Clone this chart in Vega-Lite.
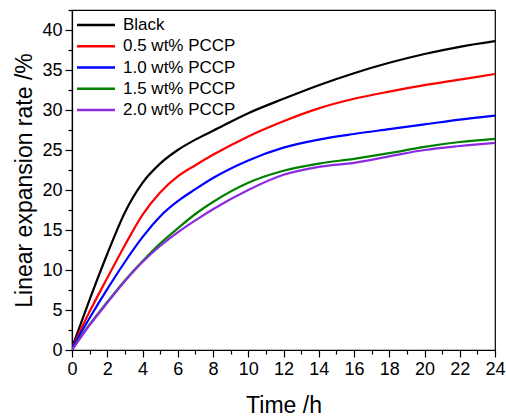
{
  "$schema": "https://vega.github.io/schema/vega-lite/v6.json",
  "width": 423,
  "height": 340,
  "autosize": {"type": "none"},
  "padding": {"left": 72, "top": 10, "right": 11, "bottom": 66},
  "background": "white",
  "config": {
    "view": {"stroke": "#000", "strokeWidth": 1.2},
    "font": "Liberation Sans"
  },
  "data": {
    "values": [
      {"t": 0, "v": 0.3, "s": "Black"},
      {"t": 1, "v": 6.3, "s": "Black"},
      {"t": 2, "v": 12.0, "s": "Black"},
      {"t": 3, "v": 17.2, "s": "Black"},
      {"t": 4, "v": 20.9, "s": "Black"},
      {"t": 5, "v": 23.3, "s": "Black"},
      {"t": 6, "v": 25.0, "s": "Black"},
      {"t": 7, "v": 26.3, "s": "Black"},
      {"t": 8, "v": 27.4, "s": "Black"},
      {"t": 10, "v": 29.6, "s": "Black"},
      {"t": 12, "v": 31.4, "s": "Black"},
      {"t": 14, "v": 33.1, "s": "Black"},
      {"t": 16, "v": 34.6, "s": "Black"},
      {"t": 18, "v": 35.9, "s": "Black"},
      {"t": 20, "v": 37.0, "s": "Black"},
      {"t": 22, "v": 37.9, "s": "Black"},
      {"t": 24, "v": 38.6, "s": "Black"},

      {"t": 0, "v": 0.2, "s": "0.5 wt% PCCP"},
      {"t": 1, "v": 4.8, "s": "0.5 wt% PCCP"},
      {"t": 2, "v": 9.0, "s": "0.5 wt% PCCP"},
      {"t": 3, "v": 13.1, "s": "0.5 wt% PCCP"},
      {"t": 4, "v": 16.9, "s": "0.5 wt% PCCP"},
      {"t": 5, "v": 19.7, "s": "0.5 wt% PCCP"},
      {"t": 6, "v": 21.7, "s": "0.5 wt% PCCP"},
      {"t": 7, "v": 23.1, "s": "0.5 wt% PCCP"},
      {"t": 8, "v": 24.4, "s": "0.5 wt% PCCP"},
      {"t": 10, "v": 26.7, "s": "0.5 wt% PCCP"},
      {"t": 12, "v": 28.6, "s": "0.5 wt% PCCP"},
      {"t": 14, "v": 30.2, "s": "0.5 wt% PCCP"},
      {"t": 16, "v": 31.4, "s": "0.5 wt% PCCP"},
      {"t": 18, "v": 32.3, "s": "0.5 wt% PCCP"},
      {"t": 20, "v": 33.1, "s": "0.5 wt% PCCP"},
      {"t": 22, "v": 33.8, "s": "0.5 wt% PCCP"},
      {"t": 24, "v": 34.5, "s": "0.5 wt% PCCP"},

      {"t": 0, "v": 0.2, "s": "1.0 wt% PCCP"},
      {"t": 1, "v": 4.0, "s": "1.0 wt% PCCP"},
      {"t": 2, "v": 7.6, "s": "1.0 wt% PCCP"},
      {"t": 3, "v": 11.0, "s": "1.0 wt% PCCP"},
      {"t": 4, "v": 14.1, "s": "1.0 wt% PCCP"},
      {"t": 5, "v": 16.7, "s": "1.0 wt% PCCP"},
      {"t": 6, "v": 18.6, "s": "1.0 wt% PCCP"},
      {"t": 7, "v": 20.1, "s": "1.0 wt% PCCP"},
      {"t": 8, "v": 21.5, "s": "1.0 wt% PCCP"},
      {"t": 10, "v": 23.7, "s": "1.0 wt% PCCP"},
      {"t": 12, "v": 25.3, "s": "1.0 wt% PCCP"},
      {"t": 14, "v": 26.3, "s": "1.0 wt% PCCP"},
      {"t": 16, "v": 27.0, "s": "1.0 wt% PCCP"},
      {"t": 18, "v": 27.6, "s": "1.0 wt% PCCP"},
      {"t": 20, "v": 28.2, "s": "1.0 wt% PCCP"},
      {"t": 22, "v": 28.8, "s": "1.0 wt% PCCP"},
      {"t": 24, "v": 29.3, "s": "1.0 wt% PCCP"},

      {"t": 0, "v": 0.0, "s": "1.5 wt% PCCP"},
      {"t": 1, "v": 3.2, "s": "1.5 wt% PCCP"},
      {"t": 2, "v": 6.0, "s": "1.5 wt% PCCP"},
      {"t": 3, "v": 8.7, "s": "1.5 wt% PCCP"},
      {"t": 4, "v": 11.1, "s": "1.5 wt% PCCP"},
      {"t": 5, "v": 13.3, "s": "1.5 wt% PCCP"},
      {"t": 6, "v": 15.2, "s": "1.5 wt% PCCP"},
      {"t": 7, "v": 17.0, "s": "1.5 wt% PCCP"},
      {"t": 8, "v": 18.5, "s": "1.5 wt% PCCP"},
      {"t": 10, "v": 20.9, "s": "1.5 wt% PCCP"},
      {"t": 12, "v": 22.4, "s": "1.5 wt% PCCP"},
      {"t": 14, "v": 23.3, "s": "1.5 wt% PCCP"},
      {"t": 16, "v": 23.9, "s": "1.5 wt% PCCP"},
      {"t": 18, "v": 24.6, "s": "1.5 wt% PCCP"},
      {"t": 20, "v": 25.4, "s": "1.5 wt% PCCP"},
      {"t": 22, "v": 26.0, "s": "1.5 wt% PCCP"},
      {"t": 24, "v": 26.4, "s": "1.5 wt% PCCP"},

      {"t": 0, "v": 0.0, "s": "2.0 wt% PCCP"},
      {"t": 1, "v": 3.1, "s": "2.0 wt% PCCP"},
      {"t": 2, "v": 5.9, "s": "2.0 wt% PCCP"},
      {"t": 3, "v": 8.6, "s": "2.0 wt% PCCP"},
      {"t": 4, "v": 11.0, "s": "2.0 wt% PCCP"},
      {"t": 5, "v": 13.0, "s": "2.0 wt% PCCP"},
      {"t": 6, "v": 14.7, "s": "2.0 wt% PCCP"},
      {"t": 7, "v": 16.2, "s": "2.0 wt% PCCP"},
      {"t": 8, "v": 17.6, "s": "2.0 wt% PCCP"},
      {"t": 10, "v": 20.0, "s": "2.0 wt% PCCP"},
      {"t": 12, "v": 21.9, "s": "2.0 wt% PCCP"},
      {"t": 14, "v": 22.9, "s": "2.0 wt% PCCP"},
      {"t": 16, "v": 23.4, "s": "2.0 wt% PCCP"},
      {"t": 18, "v": 24.2, "s": "2.0 wt% PCCP"},
      {"t": 20, "v": 25.0, "s": "2.0 wt% PCCP"},
      {"t": 22, "v": 25.5, "s": "2.0 wt% PCCP"},
      {"t": 24, "v": 25.9, "s": "2.0 wt% PCCP"}
    ]
  },
  "mark": {"type": "line", "strokeWidth": 2.2, "interpolate": "monotone", "clip": true},
  "encoding": {
    "x": {
      "field": "t",
      "type": "quantitative",
      "scale": {"domain": [0, 24], "nice": false},
      "axis": {
        "title": "Time /h",
        "values": [0,1,2,3,4,5,6,7,8,9,10,11,12,13,14,15,16,17,18,19,20,21,22,23,24],
        "labelExpr": "datum.value % 2 === 0 ? datum.label : ''",
        "grid": false,
        "domainColor": "#000",
        "domainWidth": 1.2,
        "tickColor": "#000",
        "tickWidth": 1.2,
        "tickSize": {"condition": {"test": "datum.value % 2 !== 0", "value": 4}, "value": 7},
        "labelFontSize": 18,
        "labelColor": "#000",
        "labelPadding": 3,
        "labelFlush": false,
        "labelOverlap": false,
        "titleFontSize": 23,
        "titleFontWeight": "normal",
        "titleColor": "#000",
        "titlePadding": 16
      }
    },
    "y": {
      "field": "v",
      "type": "quantitative",
      "scale": {"domain": [0, 42.5], "nice": false},
      "axis": {
        "title": "Linear expansion rate /%",
        "values": [0,2.5,5,7.5,10,12.5,15,17.5,20,22.5,25,27.5,30,32.5,35,37.5,40,42.5],
        "labelExpr": "datum.value % 5 === 0 ? datum.label : ''",
        "grid": false,
        "domainColor": "#000",
        "domainWidth": 1.2,
        "tickColor": "#000",
        "tickWidth": 1.2,
        "tickSize": {"condition": {"test": "datum.value % 5 !== 0", "value": 4}, "value": 7},
        "labelFontSize": 18,
        "labelColor": "#000",
        "labelPadding": 3,
        "labelFlush": false,
        "labelOverlap": false,
        "titleFontSize": 23,
        "titleFontWeight": "normal",
        "titleColor": "#000",
        "titlePadding": 5
      }
    },
    "color": {
      "field": "s",
      "type": "nominal",
      "scale": {
        "domain": ["Black", "0.5 wt% PCCP", "1.0 wt% PCCP", "1.5 wt% PCCP", "2.0 wt% PCCP"],
        "range": ["#000000", "#ff0000", "#0000ff", "#008000", "#8a2be2"]
      },
      "legend": {
        "title": null,
        "orient": "none",
        "legendX": 13,
        "legendY": 4,
        "padding": 0,
        "symbolType": "M-2,0H2",
        "symbolSize": 361,
        "symbolStrokeWidth": 2.5,
        "labelFontSize": 17,
        "labelColor": "#000",
        "labelOffset": 16,
        "rowPadding": 2.25,
        "fillColor": null,
        "strokeColor": null
      }
    }
  }
}
